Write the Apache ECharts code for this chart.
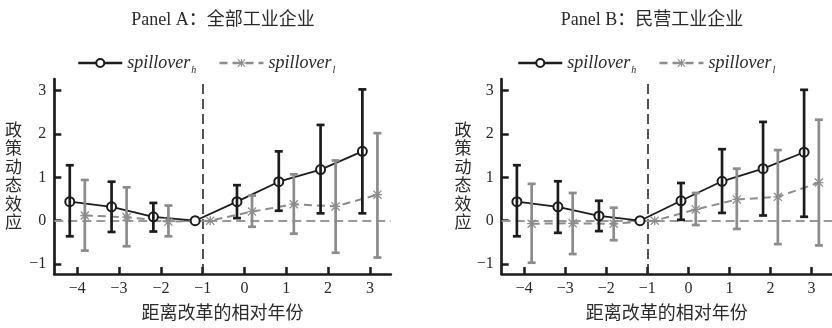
<!DOCTYPE html>
<html><head><meta charset="utf-8">
<script src="https://cdn.jsdelivr.net/npm/echarts@6/dist/echarts.min.js"></script>
<style>html,body{margin:0;padding:0;background:#fff}#c{width:832px;height:328px}</style>
</head><body><div id="c"></div>
<script>
// ---------- data ----------
const years = [-4, -3, -2, -1, 0, 1, 2, 3];
const xTicks = [-4, -3, -2, -1, 0, 1, 2, 3];
const yTicks = [-1, 0, 1, 2, 3];
const panelTitles = ['Panel A：全部工业企业', 'Panel B：民营工业企业'];
const xName = '距离改革的相对年份';
const yName = '政策动态效应';
const seriesNames = ['h', 'l'];
// Panel A
const aHigh   = [0.44, 0.32, 0.09, 0, 0.44, 0.90, 1.18, 1.60];
const aHighLo = [-0.36, -0.26, -0.25, null, 0.06, 0.23, 0.17, 0.17];
const aHighHi = [1.28, 0.90, 0.41, null, 0.82, 1.60, 2.21, 3.03];
const aLow    = [0.12, 0.08, -0.02, 0, 0.21, 0.38, 0.33, 0.60];
const aLowLo  = [-0.69, -0.59, -0.36, null, -0.14, -0.30, -0.74, -0.85];
const aLowHi  = [0.94, 0.77, 0.35, null, 0.58, 1.07, 1.39, 2.02];
// Panel B
const bHigh   = [0.44, 0.32, 0.11, 0, 0.46, 0.91, 1.20, 1.58];
const bHighLo = [-0.36, -0.28, -0.24, null, 0.02, 0.18, 0.12, 0.09];
const bHighHi = [1.28, 0.91, 0.46, null, 0.87, 1.65, 2.28, 3.02];
const bLow    = [-0.07, -0.06, -0.07, 0, 0.26, 0.49, 0.55, 0.88];
const bLowLo  = [-0.97, -0.77, -0.45, null, -0.10, -0.19, -0.54, -0.57];
const bLowHi  = [0.85, 0.64, 0.30, null, 0.64, 1.20, 1.63, 2.33];

// ---------- style ----------
const OFF = 0.18;
const FONT = '"Liberation Serif", "Noto Sans CJK SC", serif';
const BLACK = '#1c1c1c';
const GRAY = '#8c8c8c';
const TEXT = '#2a2a2a';
const STAR = 'path://M4.3,0H5.7V10H4.3Z M0,4.3H10V5.7H0Z M1,0L10,9L9,10L0,1Z M9,0L10,1L1,10L0,9Z';
const minus = v => String(v).replace('-', '\u2212');

function errRender(color, lw, cap) {
  return function (params, api) {
    const x = api.value(0), lo = api.value(1), hi = api.value(2);
    const p1 = api.coord([x, hi]), p2 = api.coord([x, lo]);
    const st = { stroke: color, lineWidth: lw };
    return { type: 'group', children: [
      { type: 'line', shape: { x1: p1[0], y1: p1[1], x2: p2[0], y2: p2[1] }, style: st },
      { type: 'line', shape: { x1: p1[0] - cap, y1: p1[1], x2: p1[0] + cap, y2: p1[1] }, style: st },
      { type: 'line', shape: { x1: p2[0] - cap, y1: p2[1], x2: p2[0] + cap, y2: p2[1] }, style: st }
    ]};
  };
}
function errData(off, lo, hi) {
  const out = [];
  years.forEach((y, i) => { if (lo[i] != null && hi[i] != null) out.push([y + off, lo[i], hi[i]]); });
  return out;
}
function pts(off, vals) { return years.map((y, i) => [y + off, vals[i]]); }

const grids = [
  { left: 54.3, top: 79, width: 336.5, height: 198.7 },
  { left: 501.7, top: 79, width: 336.5, height: 198.7 }
];
function xAx(i) {
  return {
    type: 'value', gridIndex: i, min: -4.55, max: 3.5,
    name: xName, nameLocation: 'middle', nameGap: 31,
    nameTextStyle: { fontSize: 18, color: TEXT, fontFamily: FONT },
    axisLine: { show: true, onZero: false, lineStyle: { color: BLACK, width: 2.7 } },
    axisTick: { show: true, inside: true, length: 7, customValues: xTicks, lineStyle: { color: BLACK, width: 2.5 } },
    axisLabel: { customValues: xTicks, formatter: minus, margin: 7, fontSize: 16, color: TEXT, fontFamily: FONT },
    splitLine: { show: false }
  };
}
function yAx(i) {
  return {
    type: 'value', gridIndex: i, min: -1.23, max: 3.27,
    axisLine: { show: true, onZero: false, lineStyle: { color: BLACK, width: 2.7 } },
    axisTick: { show: true, inside: true, length: 7, customValues: yTicks, lineStyle: { color: BLACK, width: 2.5 } },
    axisLabel: { customValues: yTicks, formatter: minus, margin: 8, fontSize: 16, color: TEXT, fontFamily: FONT },
    splitLine: { show: false }
  };
}
function panelSeries(i, hi, hiLo, hiHi, lo, loLo, loHi) {
  return [
    { type: 'line', name: seriesNames[0], xAxisIndex: i, yAxisIndex: i, data: pts(-OFF, hi),
      symbol: 'emptyCircle', symbolSize: 9, z: 3,
      lineStyle: { color: BLACK, width: 1.8 }, itemStyle: { color: BLACK, borderWidth: 1.7 },
      markLine: { silent: true, symbol: ['none', 'none'], label: { show: false }, z: 1,
        data: [
          { xAxis: -1, lineStyle: { color: '#2a2a2a', type: [10, 5], width: 1.6 } },
          { yAxis: 0, lineStyle: { color: '#999999', type: [9, 5], width: 2 } }
        ] } },
    { type: 'line', name: seriesNames[1], xAxisIndex: i, yAxisIndex: i, data: pts(OFF, lo),
      symbol: STAR, symbolSize: 9, z: 3,
      lineStyle: { color: GRAY, width: 2, type: [8, 5] }, itemStyle: { color: GRAY } },
    { type: 'custom', xAxisIndex: i, yAxisIndex: i, z: 4, data: errData(-OFF, hiLo, hiHi),
      dimensions: ['x', 'lo', 'hi'], encode: { x: 0, y: [1, 2] }, renderItem: errRender(BLACK, 2.7, 4) },
    { type: 'custom', xAxisIndex: i, yAxisIndex: i, z: 4, data: errData(OFF, loLo, loHi),
      dimensions: ['x', 'lo', 'hi'], encode: { x: 0, y: [1, 2] }, renderItem: errRender(GRAY, 2.7, 4) }
  ];
}
function legendAt(left) {
  return {
    data: seriesNames, left: left, top: 54, padding: 0, itemWidth: 44, itemHeight: 10, itemGap: 22,
    lineStyle: { width: 2.5 },
    formatter: n => '{a|spillover}{s|' + n + '}',
    textStyle: { rich: {
      a: { fontSize: 18, fontStyle: 'italic', fontFamily: FONT, color: TEXT },
      s: { fontSize: 10, fontStyle: 'italic', fontFamily: FONT, color: TEXT, padding: [14, 0, 0, 1] }
    } }
  };
}
function gtext(text, x, y, size, lh) {
  return { type: 'text', silent: true, style: { text: text, x: x, y: y, fill: TEXT,
    font: size + 'px ' + FONT, textAlign: 'center', textVerticalAlign: 'middle', lineHeight: lh } };
}

const chart = echarts.init(document.getElementById('c'), null, { renderer: 'canvas' });
chart.setOption({
  animation: false,
  backgroundColor: '#fff',
  grid: grids,
  xAxis: [xAx(0), xAx(1)],
  yAxis: [yAx(0), yAx(1)],
  legend: [legendAt(77), legendAt(517)],
  graphic: [
    gtext(panelTitles[0], 223, 20, 18),
    gtext(panelTitles[1], 652, 20, 18),
    gtext(yName.split('').join('\n'), 13.5, 177.5, 17, 18.5),
    gtext(yName.split('').join('\n'), 463, 177.5, 17, 18.5)
  ],
  series: [].concat(
    panelSeries(0, aHigh, aHighLo, aHighHi, aLow, aLowLo, aLowHi),
    panelSeries(1, bHigh, bHighLo, bHighHi, bLow, bLowLo, bLowHi)
  )
});
</script></body></html>
